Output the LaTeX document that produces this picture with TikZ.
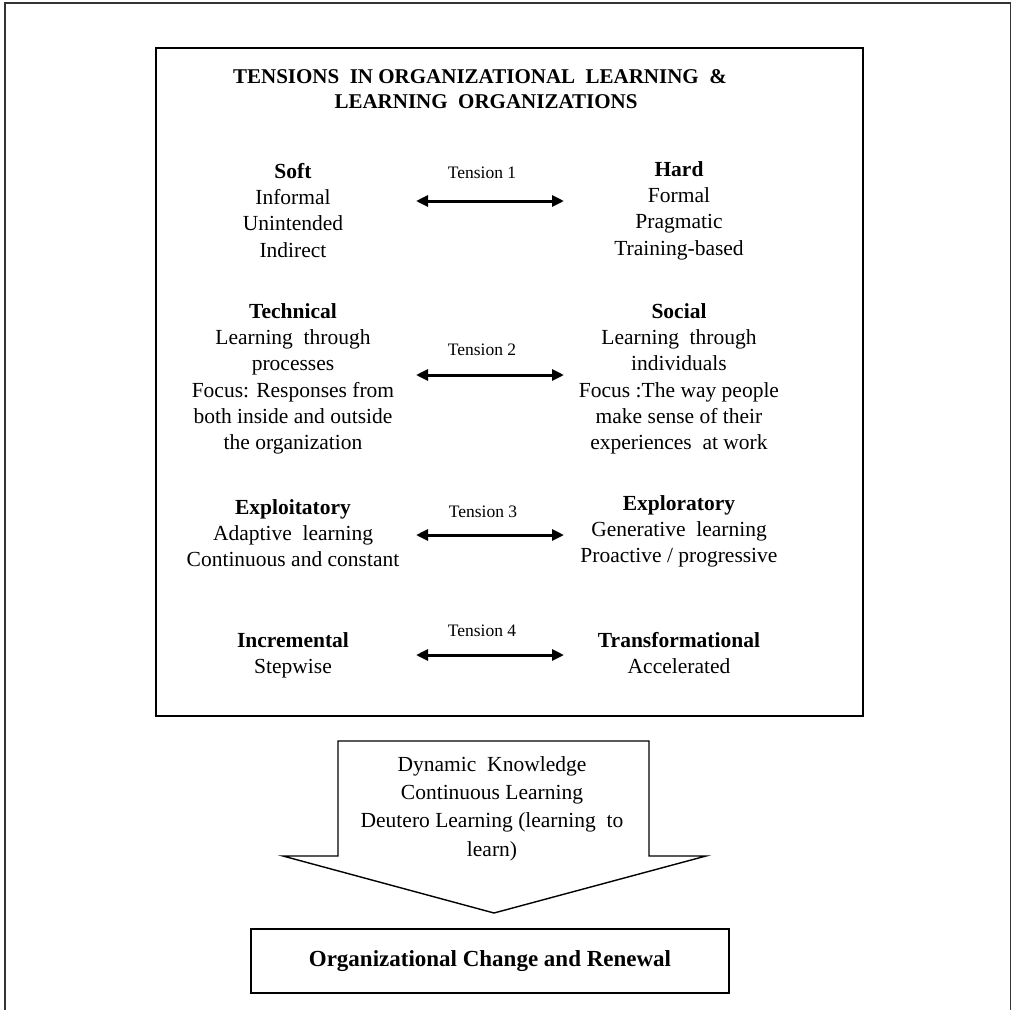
\documentclass[tikz,border=0pt]{standalone}
\usepackage{fontspec}
\setmainfont{Liberation Serif}
\usetikzlibrary{arrows.meta}
\begin{document}
\begin{tikzpicture}[x=1pt,y=-1pt,
  body/.style={align=center, inner sep=0pt, anchor=north, font=\fontsize{21.5}{26.3}\selectfont},
  titletext/.style={inner sep=0pt, font=\bfseries\fontsize{21}{25.7}\selectfont},
  tlabel/.style={inner sep=0pt, font=\fontsize{17.5}{20}\selectfont},
  dbl/.style={line width=3pt, {Triangle[length=12pt,width=11pt]}-{Triangle[length=12pt,width=11pt]}},
  framebox/.style={line width=2pt},
  outerframe/.style={line width=1.3pt, black!80},
  flowshape/.style={line width=1.4pt, line join=miter},
  resultbox/.style={draw, line width=1.4pt, minimum width=478pt, minimum height=64pt, inner sep=0pt, font=\bfseries\fontsize{23}{27.5}\selectfont}
]
\useasboundingbox (0,0) rectangle (1012,1010);
% outer frame (open at the bottom)
\draw[outerframe] (5,1010) -- (5,3) -- (1010.5,3) -- (1010.5,1010);
% inner box
\draw[framebox] (156,48) rectangle (863,716);

% title
\node[titletext] (title1) at (480,76.3) {TENSIONS\ \ IN\ ORGANIZATIONAL\ \ LEARNING\ \ \&};
\node[titletext] (title2) at (486,102) {LEARNING\ \ ORGANIZATIONS};

% tension 1
\node[body] (soft) at (293,159.7) {\strut\textbf{Soft}\\Informal\\Unintended\\Indirect};
\node[body] (hard) at (679,157.7) {\strut\textbf{Hard}\\Formal\\Pragmatic\\Training-based};
\node[tlabel] (t1) at (482,173) {Tension 1};
\coordinate (a1l) at (416,201);
\coordinate (a1r) at (564,201);
\draw[dbl] (a1l) -- (a1r);

% tension 2
\node[body] (technical) at (293,299.7) {\strut\textbf{Technical}\\Learning\ \ through\\processes\\Focus: Responses from\\both inside and outside\\the organization};
\node[body] (social) at (679,299.7) {\strut\textbf{Social}\\Learning\ \ through\\individuals\\Focus :The way people\\make sense of their\\experiences\ \ at work};
\node[tlabel] (t2) at (482,350) {Tension 2};
\coordinate (a2l) at (416,375);
\coordinate (a2r) at (564,375);
\draw[dbl] (a2l) -- (a2r);

% tension 3
\node[body] (exploit) at (293,495.7) {\strut\textbf{Exploitatory}\\Adaptive\ \ learning\\Continuous and constant};
\node[body] (explore) at (679,491.7) {\strut\textbf{Exploratory}\\Generative\ \ learning\\Proactive / progressive};
\node[tlabel] (t3) at (483,512) {Tension 3};
\coordinate (a3l) at (416,535);
\coordinate (a3r) at (564,535);
\draw[dbl] (a3l) -- (a3r);

% tension 4
\node[body] (incr) at (293,628.7) {\strut\textbf{Incremental}\\Stepwise};
\node[body] (transf) at (679,628.7) {\strut\textbf{Transformational}\\Accelerated};
\node[tlabel] (t4) at (482,631) {Tension 4};
\coordinate (a4l) at (416,655);
\coordinate (a4r) at (564,655);
\draw[dbl] (a4l) -- (a4r);

% big down arrow
\draw[flowshape] (338,741) -- (649,741) -- (649,856) -- (706,856) -- (494,913) -- (283,856) -- (338,856) -- cycle;
\node[body, font=\fontsize{21.5}{28.3}\selectfont] (flow) at (492,751.3) {\strut Dynamic\ \ Knowledge\\Continuous Learning\\Deutero Learning\ (learning\ \ to\\learn)};

% result box
\node[resultbox] (renewal) at (490,961) {Organizational Change and Renewal};
\end{tikzpicture}
\end{document}
